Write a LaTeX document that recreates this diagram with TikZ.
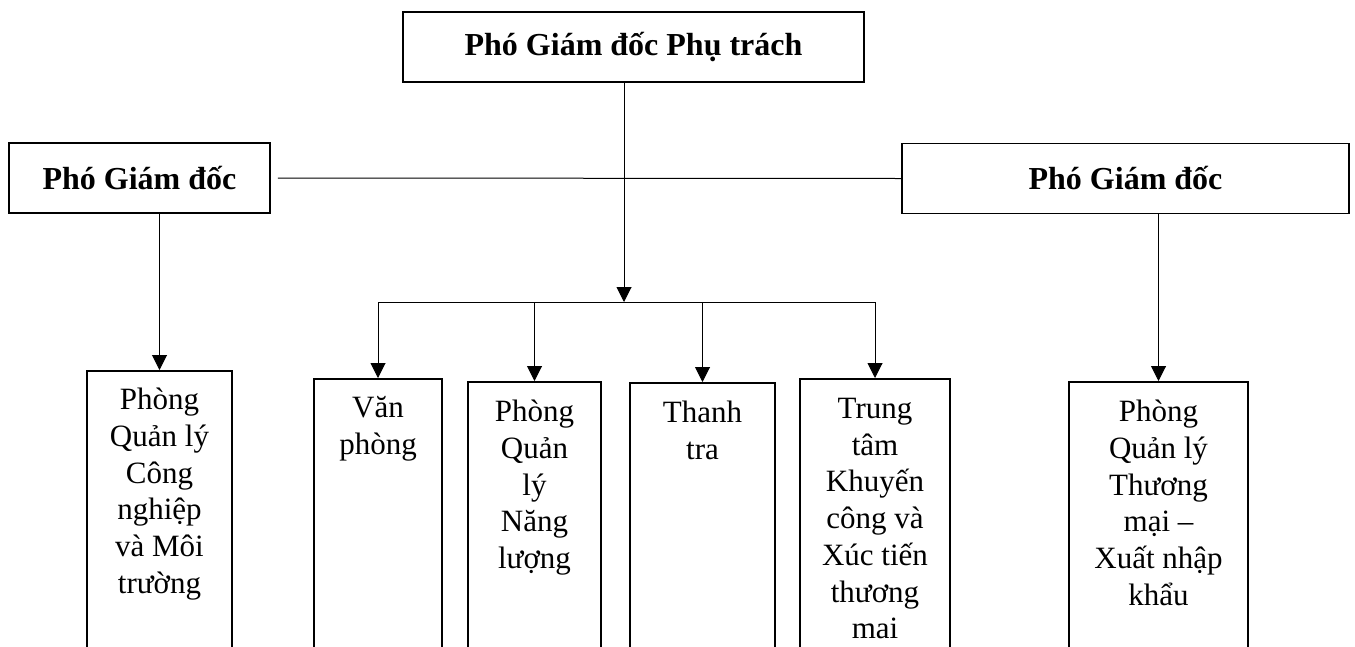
\documentclass[tikz,border=0pt]{standalone}
\usepackage{fontspec}
\setmainfont{Liberation Serif}
\usetikzlibrary{arrows.meta,positioning}

\begin{document}
\begin{tikzpicture}[x=1pt,y=-1pt]

\definecolor{lcolor}{HTML}{000000}

\tikzstyle{head}=[draw=lcolor, line width=1.6pt, minimum height=70pt, inner sep=0pt, font=\bfseries\fontsize{32}{38}\selectfont]
\tikzstyle{unit}=[draw=lcolor, line width=1.6pt, minimum height=300pt, inner sep=0pt, anchor=north]
\tikzstyle{unittext}=[align=center, inner sep=0pt, font=\fontsize{31}{36.7}\selectfont]
\tikzstyle{conn}=[line width=1pt, color=lcolor]
\tikzstyle{arrow}=[conn, -{Triangle[length=15pt,width=15pt]}]

\useasboundingbox (0,0) rectangle (1355,646);
\clip (0,0) rectangle (1355,646);

% leaders
\node[head, minimum width=461pt] (pgdpt) at (633.5,47) {Phó Giám đốc Phụ trách};
\node[head, minimum width=261pt] (pgdl) at (139.5,178) {Phó Giám đốc};
\node[head, minimum width=447pt] (pgdr) at (1125.5,178.5) {Phó Giám đốc};

% units (open at the bottom edge)
\node[unit, minimum width=145pt] (cnmt) at (159.5,370) {};
\node[unit, minimum width=128pt] (vp) at (378,378) {};
\node[unit, minimum width=133pt] (nl) at (534.5,381) {};
\node[unit, minimum width=145pt] (tt) at (702.5,382) {};
\node[unit, minimum width=150pt] (kc) at (875,378) {};
\node[unit, minimum width=179pt] (tmxnk) at (1158.5,381) {};

\node[unittext, below=18pt of cnmt.north] (cnmtt) {Phòng\\Quản lý\\Công\\nghiệp\\và Môi\\trường};
\node[unittext, below=18pt of vp.north] (vpt) {Văn\\phòng};
\node[unittext, below=19pt of nl.north] (nlt) {Phòng\\Quản\\lý\\Năng\\lượng};
\node[unittext, below=19pt of tt.north] (ttt) {Thanh\\tra};
\node[unittext, below=20pt of kc.north] (kct) {Trung\\tâm\\Khuyến\\công và\\Xúc tiến\\thương\\mai};
\node[unittext, below=19pt of tmxnk.north] (tmxnkt) {Phòng\\Quản lý\\Thương\\mại –\\Xuất nhập\\khẩu};

% connectors
\coordinate (bus) at (624,302);
\draw[conn] ([xshift=7pt]pgdl.east) -- (pgdr.west);
\draw[arrow] (bus |- pgdpt.south) -- (bus);
\draw[conn] (vp.north |- bus) -- (kc.north |- bus);
\foreach \u in {vp,nl,tt,kc} {
    \draw[arrow] (\u.north |- bus) -- (\u.north);
};
\draw[arrow] (cnmt.north |- pgdl.south) -- (cnmt.north);
\draw[arrow] (tmxnk.north |- pgdr.south) -- (tmxnk.north);

\end{tikzpicture}
\end{document}
